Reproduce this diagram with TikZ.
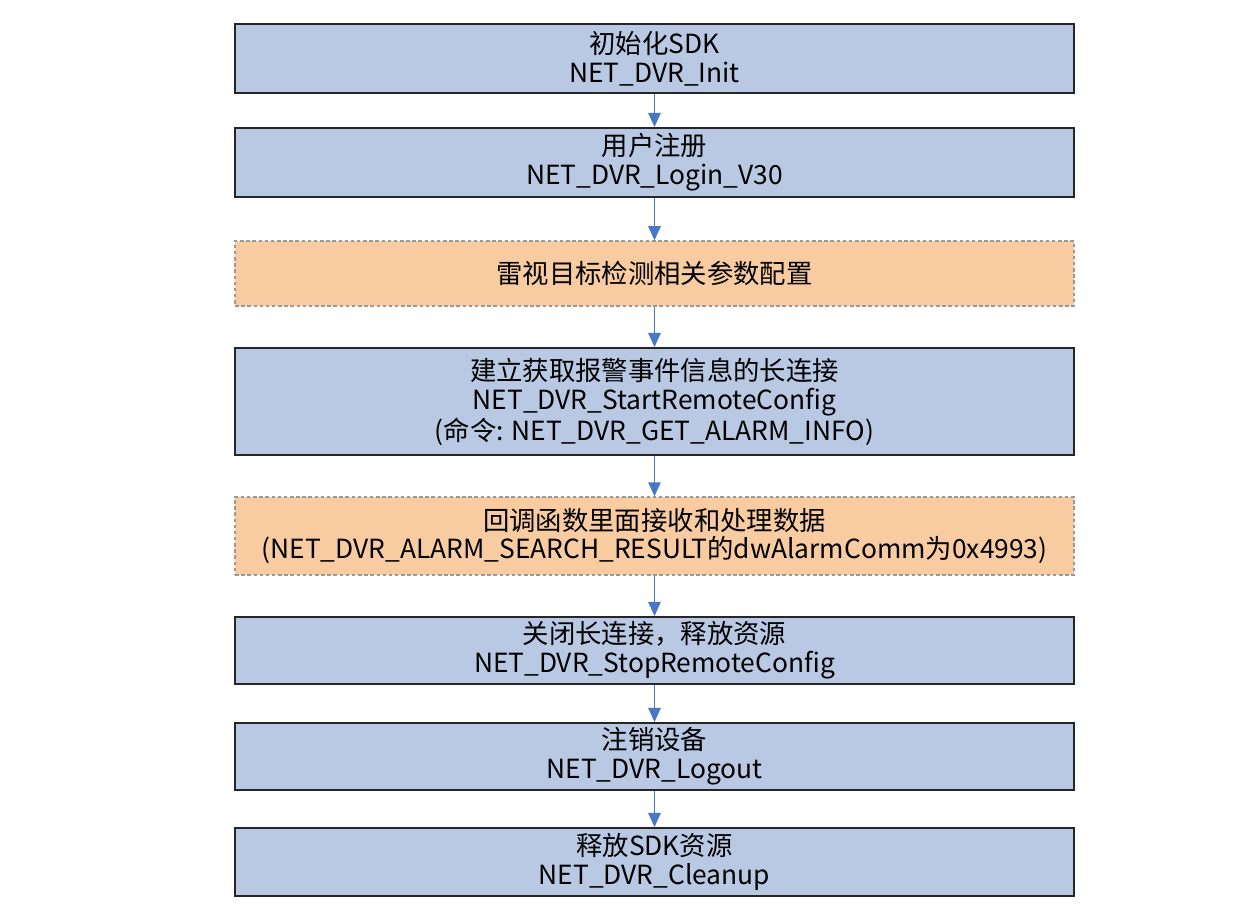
\documentclass[tikz,border=0pt]{standalone}
\usepackage{fontspec}
\setmainfont{Noto Sans CJK SC}
\usetikzlibrary{arrows.meta}

\definecolor{boxblue}{RGB}{185,201,227}
\definecolor{boxorange}{RGB}{248,204,160}
\definecolor{linkblue}{RGB}{74,118,198}

\tikzset{
  stepbox/.style={draw=black!85, line width=1.1pt, fill=boxblue, minimum width=16.78cm,
    align=center, inner sep=0pt, font=\fontsize{15}{16.5}\selectfont},
  cfgbox/.style={stepbox, draw=black!40, line width=0.8pt, dash pattern=on 2pt off 1.5pt, fill=boxorange},
  link/.style={draw=linkblue, line width=1pt, -{Triangle[length=8pt,width=7pt]}}
}

\begin{document}
\begin{tikzpicture}[x=0.02cm, y=-0.02cm]

\useasboundingbox (0,0) rectangle (1260,922);

\node[stepbox, minimum height=1.38cm] (init) at (654.5,58.5) {初始化SDK\\NET\_DVR\_Init};
\node[stepbox, minimum height=1.38cm] (login) at (654.5,162.5) {用户注册\\NET\_DVR\_Login\_V30};
\node[cfgbox, minimum height=1.30cm] (cfg) at (654.5,273.5) {雷视目标检测相关参数配置};
\node[stepbox, minimum height=2.14cm] (start) at (654.5,401.5) {建立获取报警事件信息的长连接\\NET\_DVR\_StartRemoteConfig\\(命令: NET\_DVR\_GET\_ALARM\_INFO)};
\node[cfgbox, minimum height=1.56cm] (cb) at (654.5,536) {回调函数里面接收和处理数据\\(NET\_DVR\_ALARM\_SEARCH\_RESULT的dwAlarmComm为0x4993)};
\node[stepbox, minimum height=1.34cm] (stop) at (654.5,650.5) {关闭长连接，释放资源\\NET\_DVR\_StopRemoteConfig};
\node[stepbox, minimum height=1.34cm] (logout) at (654.5,756.5) {注销设备\\NET\_DVR\_Logout};
\node[stepbox, minimum height=1.36cm] (clean) at (654.5,862) {释放SDK资源\\NET\_DVR\_Cleanup};

\draw[link] (init) -- (login);
\draw[link] (login) -- (cfg);
\draw[link] (cfg) -- (start);
\draw[link] (start) -- (cb);
\draw[link] (cb) -- (stop);
\draw[link] (stop) -- (logout);
\draw[link] (logout) -- (clean);

\end{tikzpicture}
\end{document}
